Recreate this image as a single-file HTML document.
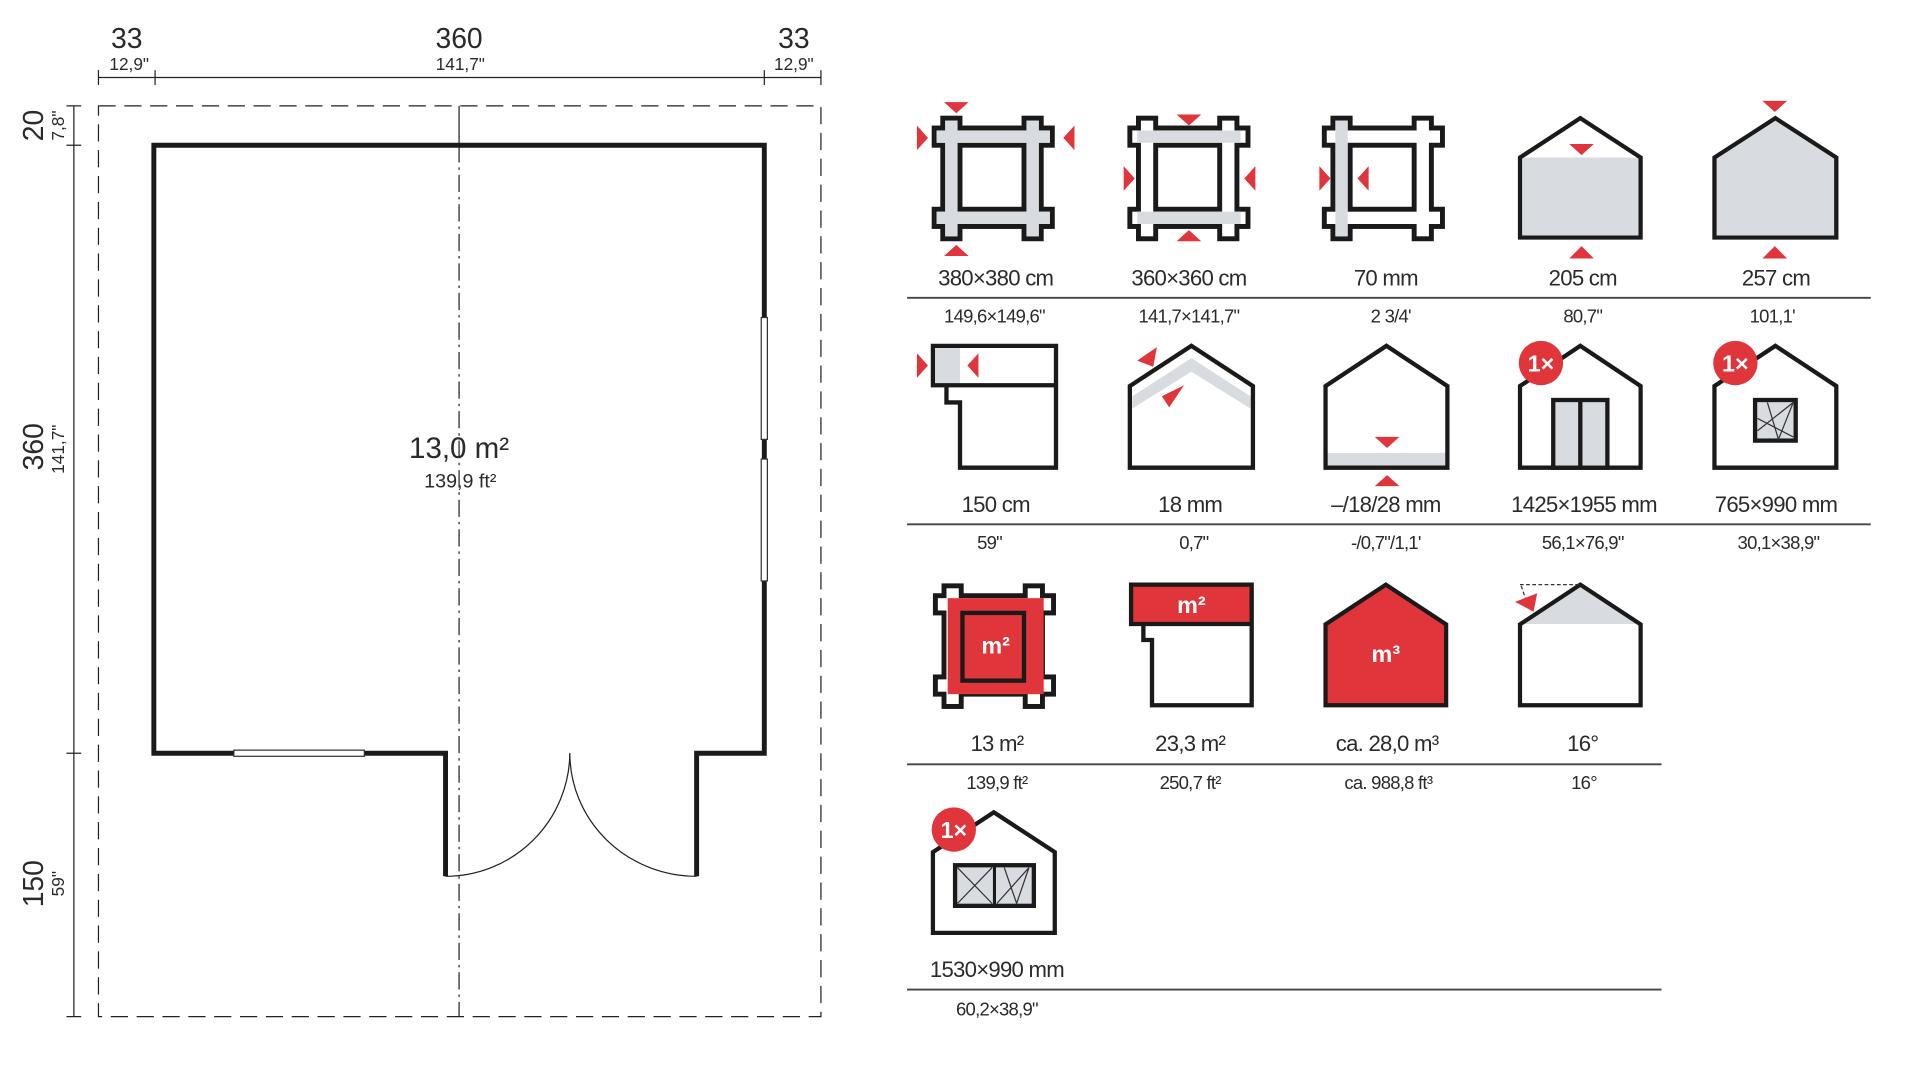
<!DOCTYPE html>
<html><head><meta charset="utf-8"><style>
html,body{margin:0;padding:0;background:#fff;}
svg{display:block;}
text{font-family:"Liberation Sans",sans-serif;fill:#2a2a2a;}
</style></head><body>
<svg width="1920" height="1080" viewBox="0 0 1560 877.5" preserveAspectRatio="none" xmlns="http://www.w3.org/2000/svg">
<defs>
  <g id="logs">
    <g fill="#1a1a1a">
      <rect x="7" y="0" width="18" height="102"/>
      <rect x="73" y="0" width="18" height="102"/>
      <rect x="0" y="8" width="100" height="18"/>
      <rect x="0" y="74" width="100" height="18"/>
    </g>
    <g fill="#fff">
      <rect x="11" y="4" width="10" height="94"/>
      <rect x="77" y="4" width="10" height="94"/>
      <rect x="4" y="12" width="92" height="10"/>
      <rect x="4" y="78" width="92" height="10"/>
    </g>
  </g>
  <polygon id="house" points="0,100 0,33 50,0 100,33 100,100" fill="none" stroke="#1a1a1a" stroke-width="3.5" stroke-linejoin="miter"/>
</defs>

<g stroke="#222" stroke-width="1" fill="none">
  <line x1="80" y1="63" x2="667" y2="63"/>
  <line x1="80" y1="57" x2="80" y2="69"/><line x1="126" y1="57" x2="126" y2="69"/>
  <line x1="621" y1="57" x2="621" y2="69"/><line x1="667" y1="57" x2="667" y2="69"/>
  <line x1="60" y1="86" x2="60" y2="826"/>
  <line x1="54" y1="86" x2="66" y2="86"/><line x1="54" y1="118" x2="66" y2="118"/>
  <line x1="54" y1="612" x2="66" y2="612"/><line x1="54" y1="826" x2="66" y2="826"/>
  <rect x="80" y="86" width="587" height="740" stroke-dasharray="14,7"/>
  <line x1="373" y1="86" x2="373" y2="118"/>
  <line x1="373" y1="118" x2="373" y2="826" stroke-dasharray="14,4,2,4"/>
  <path d="M362,712 A101,101 0 0 0 463,612"/>
  <path d="M566,712 A103,100 0 0 1 463,612"/>
</g>
<path d="M362,712 L362,612 L125,612 L125,118 L621,118 L621,612 L566,612 L566,712" fill="none" stroke="#1a1a1a" stroke-width="4"/>
<g fill="#fff" stroke="#333" stroke-width="1">
  <rect x="190" y="609.5" width="106" height="5"/>
  <rect x="618.5" y="258" width="5" height="99"/>
  <rect x="618.5" y="373" width="5" height="99"/>
</g>
<g text-anchor="middle">
  <text x="103" y="39" font-size="23">33</text><text x="105" y="57" font-size="14">12,9"</text>
  <text x="373" y="39" font-size="23">360</text><text x="374" y="57" font-size="14">141,7"</text>
  <text x="645" y="39" font-size="23">33</text><text x="645" y="57" font-size="14">12,9"</text>
  <text x="373" y="372" font-size="24">13,0 m²</text>
  <text x="374" y="396" font-size="16">139,9 ft²</text>
</g>
<g text-anchor="middle">
  <text transform="translate(35,102) rotate(-90)" font-size="23">20</text>
  <text transform="translate(52,102) rotate(-90)" font-size="14">7,8"</text>
  <text transform="translate(35,363) rotate(-90)" font-size="23">360</text>
  <text transform="translate(52,365) rotate(-90)" font-size="14">141,7"</text>
  <text transform="translate(35,718) rotate(-90)" font-size="23">150</text>
  <text transform="translate(52,718) rotate(-90)" font-size="14">59"</text>
</g>

<g fill="#e0353b">
<g transform="translate(757,94)"><use href="#logs"/>
  <g fill="#d8dbe0"><rect x="11" y="4" width="10" height="94"/><rect x="77" y="4" width="10" height="94"/><rect x="4" y="12" width="92" height="10"/><rect x="4" y="78" width="92" height="10"/></g>
</g>
<polygon points="767,83 787,83 777,92"/><polygon points="767,208 787,208 777,199"/>
<polygon points="745,102 745,122 754,112"/><polygon points="873,102 873,122 864,112"/>
<g transform="translate(916,94)"><use href="#logs"/>
  <g fill="#d8dbe0"><rect x="8" y="12" width="84" height="10"/><rect x="8" y="78" width="84" height="10"/></g>
</g>
<polygon points="956,93 976,93 966,102"/><polygon points="956,196 976,196 966,187"/>
<polygon points="913,135 913,155 922,145"/><polygon points="1020,135 1020,155 1011,145"/>
<g transform="translate(1074,94)"><use href="#logs"/>
  <g fill="#d8dbe0"><rect x="11" y="4" width="10" height="94"/></g>
</g>
<polygon points="1072,135 1072,155 1081,145"/><polygon points="1112,135 1112,155 1103,145"/>
<polygon points="1236,193 1236,128 1333,128 1333,193" fill="#d8dbe0"/>
<g transform="translate(1235,96) scale(0.98,0.97)"><use href="#house"/></g>
<polygon points="1275,117 1295,117 1285,126"/><polygon points="1275,210 1295,210 1285,200"/>
<polygon points="1393,193 1393,128 1442,96 1492,128 1492,193" fill="#d8dbe0"/>
<g transform="translate(1393,96) scale(0.99,0.97)"><use href="#house"/></g>
<polygon points="1432,82 1452,82 1442,91"/><polygon points="1432,210 1452,210 1442,200"/>
</g>

<g fill="#e0353b">
<rect x="760" y="282" width="20" height="30" fill="#d8dbe0"/>
<path d="M758,281 L858,281 L858,380 L780,380 L780,327 L769,327 L769,313 L758,313 Z M758,313 L858,313" fill="none" stroke="#1a1a1a" stroke-width="3.5"/>
<polygon points="745,287 745,307 754,297"/><polygon points="795,287 795,307 786,297"/>
<polygon points="920,322 968,291 1016,322 1016,332 968,302 920,332" fill="#d8dbe0"/>
<g transform="translate(918,281) scale(1,0.99)"><use href="#house"/></g>
<polygon points="924,293 940,282 937,298"/><polygon points="944,322 962,313 950,331"/>
<rect x="1078" y="368" width="97" height="11" fill="#d8dbe0"/>
<g transform="translate(1077,281) scale(0.99,0.99)"><use href="#house"/></g>
<polygon points="1117,355 1137,355 1127,364"/><polygon points="1117,395 1137,395 1127,386"/>
<g transform="translate(1235,281) scale(0.98,0.99)"><use href="#house"/></g>
<rect x="1262" y="325" width="44" height="55" fill="#d8dbe0" stroke="#1a1a1a" stroke-width="3.5"/>
<line x1="1284" y1="325" x2="1284" y2="380" stroke="#1a1a1a" stroke-width="3.5"/>
<circle cx="1252" cy="295" r="18"/>
<text x="1252" y="302" font-size="19" font-weight="bold" text-anchor="middle" style="fill:#fff">1×</text>
<g transform="translate(1393,281) scale(0.99,0.99)"><use href="#house"/></g>
<rect x="1426" y="325" width="33" height="33" fill="#d8dbe0" stroke="#1a1a1a" stroke-width="3.5"/>
<path d="M1428,350 L1457,327 L1445,357 L1436,327 M1428,340 L1457,355" stroke="#333" stroke-width="1" fill="none"/>
<circle cx="1410" cy="295" r="18"/>
<text x="1410" y="302" font-size="19" font-weight="bold" text-anchor="middle" style="fill:#fff">1×</text>
</g>

<g fill="#e0353b">
<g transform="translate(758,474)"><use href="#logs"/></g>
<rect x="770" y="486" width="78" height="78"/>
<rect x="782" y="498" width="50" height="55" fill="#e0353b" stroke="#1a1a1a" stroke-width="3.5"/>
<text x="809" y="531" font-size="19" font-weight="bold" text-anchor="middle" style="fill:#fff">m²</text>
<rect x="919" y="476" width="97" height="30"/>
<path d="M919,475 L1017,475 L1017,573 L936,573 L936,520 L929,520 L929,507 L919,507 Z M919,507 L1017,507" fill="none" stroke="#1a1a1a" stroke-width="3.5"/>
<text x="968" y="498" font-size="19" font-weight="bold" text-anchor="middle" style="fill:#fff">m²</text>
<polygon points="1077,572 1077,508 1126,476 1175,508 1175,572"/>
<g transform="translate(1077,475) scale(0.98,0.98)"><use href="#house"/></g>
<text x="1126" y="538" font-size="19" font-weight="bold" text-anchor="middle" style="fill:#fff">m³</text>
<polygon points="1237,507 1284,477 1332,507" fill="#d8dbe0"/>
<g transform="translate(1235,475) scale(0.98,0.98)"><use href="#house"/></g>
<path d="M1235,475 L1284,475 M1236,476 L1240,488" stroke="#333" stroke-width="1" stroke-dasharray="3,2" fill="none"/>
<polygon points="1231,489 1249,482 1246,497"/>
</g>

<g fill="#e0353b">
<g transform="translate(758,660) scale(0.99,0.98)"><use href="#house"/></g>
<rect x="776" y="703" width="64" height="33" fill="#d8dbe0" stroke="#1a1a1a" stroke-width="3.5"/>
<line x1="808" y1="703" x2="808" y2="736" stroke="#1a1a1a" stroke-width="2.5"/>
<path d="M778,705 L806,734 M778,734 L806,705 M810,734 L836,705 L826,734 L816,705" stroke="#333" stroke-width="1" fill="none"/>
<circle cx="775" cy="674" r="18"/>
<text x="775" y="681" font-size="19" font-weight="bold" text-anchor="middle" style="fill:#fff">1×</text>
</g>

<g stroke="#444" stroke-width="1.5">
  <line x1="737" y1="242" x2="1520" y2="242"/>
  <line x1="737" y1="426" x2="1520" y2="426"/>
  <line x1="737" y1="621" x2="1350" y2="621"/>
  <line x1="737" y1="804" x2="1350" y2="804"/>
</g>
<g text-anchor="middle" font-size="18" letter-spacing="-0.6">
  <text x="809" y="232">380×380 cm</text>
  <text x="966" y="232">360×360 cm</text>
  <text x="1126" y="232">70 mm</text>
  <text x="1286" y="232">205 cm</text>
  <text x="1443" y="232">257 cm</text>
  <text x="809" y="416">150 cm</text>
  <text x="967" y="416">18 mm</text>
  <text x="1126" y="416">–/18/28 mm</text>
  <text x="1287" y="416">1425×1955 mm</text>
  <text x="1443" y="416">765×990 mm</text>
  <text x="810" y="610">13 m²</text>
  <text x="967" y="610">23,3 m²</text>
  <text x="1127" y="610">ca. 28,0 m³</text>
  <text x="1286" y="610">16°</text>
  <text x="810" y="794">1530×990 mm</text>
</g>
<g text-anchor="middle" font-size="15" letter-spacing="-0.6">
  <text x="808" y="262">149,6×149,6"</text>
  <text x="966" y="262">141,7×141,7"</text>
  <text x="1130" y="262">2  3/4'</text>
  <text x="1286" y="262">80,7"</text>
  <text x="1440" y="262">101,1'</text>
  <text x="804" y="446">59"</text>
  <text x="970" y="446">0,7"</text>
  <text x="1126" y="446">-/0,7"/1,1'</text>
  <text x="1286" y="446">56,1×76,9"</text>
  <text x="1445" y="446">30,1×38,9"</text>
  <text x="810" y="641">139,9 ft²</text>
  <text x="967" y="641">250,7 ft²</text>
  <text x="1128" y="641">ca. 988,8 ft³</text>
  <text x="1287" y="641">16°</text>
  <text x="810" y="825">60,2×38,9"</text>
</g>
</svg>
</body></html>
